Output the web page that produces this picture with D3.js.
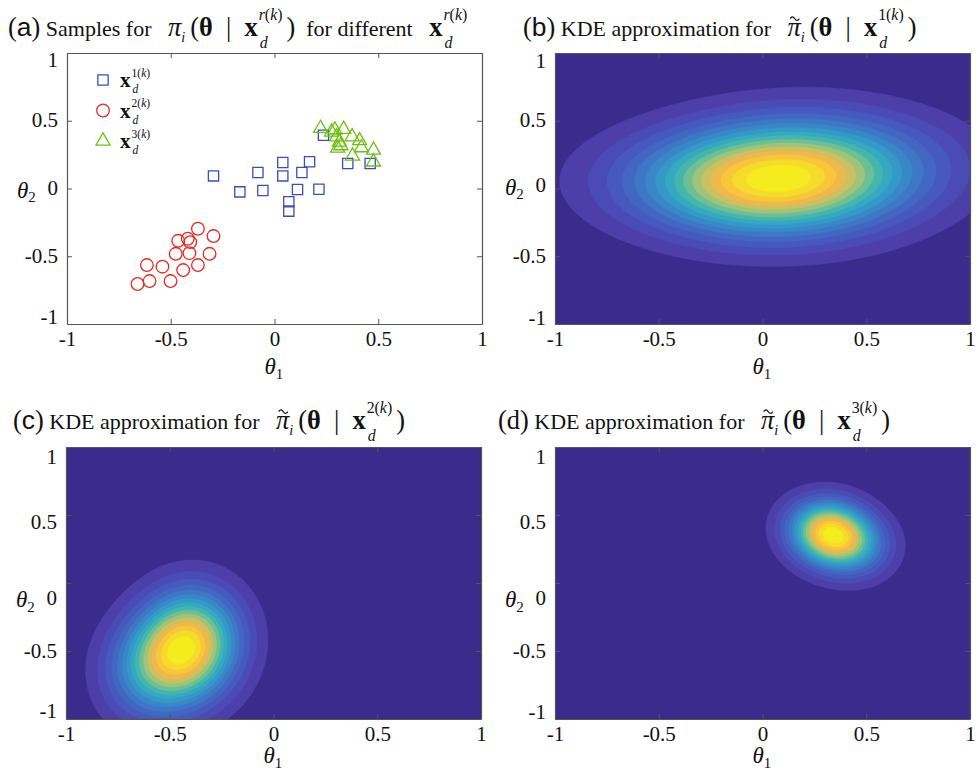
<!DOCTYPE html>
<meta charset="utf-8">
<style>
  body { margin: 0; background: #fff; }
  text { font-family: "Liberation Serif", "Times New Roman", serif; fill: #111; white-space: pre; }
  .axis path, .axis line { stroke: #555; }
  .axis text { font-family: "Liberation Serif", "Times New Roman", serif; font-size: 21px; fill: #111; }
</style>
<svg width="979" height="770"></svg>
<script src="https://cdn.jsdelivr.net/npm/d3@7"></script>
<script>

// samples of theta for each x_d^{r(k)}  ([theta1, theta2])
var samples1 = [[-0.294,0.093],[-0.167,-0.025],[-0.080,0.118],[-0.056,-0.015],[0.040,0.192],[0.040,0.093],
                [0.069,-0.098],[0.069,-0.167],[0.111,-0.007],[0.132,0.118],[0.169,0.197],[0.214,-0.005],
                [0.236,0.393],[0.353,0.184],[0.461,0.184]];
var samples2 = [[-0.660,-0.705],[-0.602,-0.683],[-0.615,-0.565],[-0.540,-0.577],[-0.501,-0.683],[-0.476,-0.482],
                [-0.464,-0.386],[-0.440,-0.602],[-0.418,-0.371],[-0.406,-0.396],[-0.410,-0.477],[-0.369,-0.565],
                [-0.369,-0.297],[-0.313,-0.482],[-0.294,-0.351]];
var samples3 = [[0.222,0.444],[0.291,0.432],[0.333,0.437],[0.299,0.382],[0.320,0.316],[0.313,0.343],
                [0.374,0.382],[0.410,0.353],[0.419,0.301],[0.376,0.240],[0.477,0.284],[0.477,0.196],
                [0.275,0.417],[0.304,0.299]];

// KDE bandwidths [h1, h2] used for panels b, c, d
var bandwidths = [[0.40, 0.24], [0.15, 0.25], [0.12, 0.15]];
var nLevels = 16;

var tickValues = [-1, -0.5, 0, 0.5, 1];
var seriesNames = ["1", "2", "3"];

// muted parula-like colours, background first, then one per contour band
var bandColors = ["#3a2b8c", "#4d3eaa", "#4a4bb5", "#4659bd", "#4267c2", "#3d77c6", "#3888c8", "#3499c8",
                  "#35a9c0", "#46b6ad", "#6cc094", "#9ec479", "#cbc062", "#efb84a", "#f9c53a", "#f6dc2a", "#f5ec1e"];

var svg = d3.select("svg");

var panels = [
    {id: "a", x0: 67,  x1: 482, y0: 53,  y1: 324, ylab: [-7, 0, 0, 0, 7]},
    {id: "b", x0: 555, x1: 970, y0: 53,  y1: 324, ylab: [-6, 0, -3, 0, 8]},
    {id: "c", x0: 66,  x1: 481, y0: 447, y1: 719, ylab: [-8, 0, 15, 7, 10]},
    {id: "d", x0: 555, x1: 970, y0: 447, y1: 719, ylab: [-7, 0, 15, 7, 10]}
];

panels.forEach(function(p) {
    p.x = d3.scaleLinear().domain([-1, 1]).range([p.x0, p.x1]);
    p.y = d3.scaleLinear().domain([-1, 1]).range([p.y1, p.y0]);
    p.g = svg.append("g");
});

// --- rich text helper: runs are [string, style] ---
function seg(g, x, y, fs, runs) {
    var t = g.append("text").attr("x", x).attr("y", y).style("font-size", fs + "px");
    runs.forEach(function(r) {
        var s = t.append("tspan").text(r[0]);
        if (r[1] == "i") s.style("font-style", "italic");
        if (r[1] == "b") s.style("font-weight", "bold");
        if (r[1] == "s") s.style("font-family", "'Liberation Sans', Arial, sans-serif");
    });
    return t.node().getComputedTextLength();
}

function rich(g, x, y, fs, parts) {
    var cx = x;
    parts.forEach(function(p) {
        var f = fs * (p.k || 1);
        if (p.stack) {
            var sk = p.small || 0.6;
            var a = seg(g, cx, y - f * (p.up || 0.62), f * sk, p.stack[0]);
            var b = seg(g, cx + 1, y + f * (p.down || 0.44), f * sk, p.stack[1]);
            cx += Math.max(a, b) + (p.gap || 1);
        } else {
            var w = seg(g, cx, y + (p.dy || 0) * fs, f, p.s);
            if (p.tilde) {
                // tilde accent drawn as a small wave above the glyph
                var tx = cx + w * 0.2, ty = y - f * 0.66, tw = w * 0.7;
                g.append("path")
                    .attr("d", "M" + tx + "," + ty + "q" + tw / 4 + ",-3.5 " + tw / 2 + ",0t" + tw / 2 + ",0")
                    .attr("fill", "none").attr("stroke", "#111").attr("stroke-width", 1.1);
            }
            cx += w + (p.gap || 0);
        }
    });
}

function xd(sup, k, gap) {
    return [{s: [["x", "b"]], k: k, gap: 1}, {stack: [sup, [["d", "i"]]], k: k, gap: gap}];
}
var rk = [["r", "i"], ["(", "n"], ["k", "i"], [")", "n"]];
function nk(n) { return [[n, "n"], ["(", "n"], ["k", "i"], [")", "n"]]; }

// --- axes ---
function drawAxes(p) {
    var fmt = function(d) { return String(d); };
    p.g.append("g").attr("class", "axis").attr("transform", "translate(0," + p.y1 + ")")
        .call(d3.axisBottom(p.x).tickValues(tickValues).tickFormat(fmt).tickSizeInner(-5).tickSizeOuter(0).tickPadding(7));
    p.g.append("g").attr("class", "axis").attr("transform", "translate(0," + p.y0 + ")")
        .call(d3.axisTop(p.x).tickValues(tickValues).tickFormat("").tickSizeInner(-5).tickSizeOuter(0));
    var ya = p.g.append("g").attr("class", "axis").attr("transform", "translate(" + p.x0 + ",0)")
        .call(d3.axisLeft(p.y).tickValues(tickValues).tickFormat(fmt).tickSizeInner(-5).tickSizeOuter(0).tickPadding(9));
    ya.selectAll(".tick text").attr("dy", function(d, i) { return (p.ylab[i] + 6) + "px"; });
    p.g.append("g").attr("class", "axis").attr("transform", "translate(" + p.x1 + ",0)")
        .call(d3.axisRight(p.y).tickValues(tickValues).tickFormat("").tickSizeInner(-5).tickSizeOuter(0));
    p.g.selectAll(".axis path").attr("stroke-width", 1.2);

    var cx = (p.x0 + p.x1) / 2;
    rich(p.g, cx - 10, Math.min(p.y1 + 50, 763), 23, [{s: [["θ", "i"]]}, {s: [["1", "n"]], k: 0.65, dy: 0.2}]);
    var zy = p.y(0) + p.ylab[2];
    rich(p.g, p.x0 - 50, zy + 9, 23, [{s: [["θ", "i"]]}, {s: [["2", "n"]], k: 0.65, dy: 0.2}]);
}

// --- panel (a): scatter ---
var pa = panels[0];
var markers = [
    {data: samples1, type: d3.symbolSquare, size: 105, color: "#3c4db4"},
    {data: samples2, type: d3.symbolCircle, size: 125, color: "#e8271f"},
    {data: samples3, type: d3.symbolTriangle, size: 85, color: "#6cbf10"}
];
markers.forEach(function(m) {
    pa.g.selectAll(null).data(m.data).enter().append("path")
        .attr("transform", function(d) { return "translate(" + pa.x(d[0]) + "," + pa.y(d[1]) + ")"; })
        .attr("d", d3.symbol().type(m.type).size(m.size))
        .attr("fill", "none").attr("stroke", m.color).attr("stroke-width", 1.3);
});
drawAxes(pa);

// legend
markers.forEach(function(m, i) {
    var ly = 80 + i * 30.5;
    pa.g.append("path").attr("transform", "translate(103," + ly + ")")
        .attr("d", d3.symbol().type(m.type).size(m.size))
        .attr("fill", "none").attr("stroke", m.color).attr("stroke-width", 1.3);
    rich(pa.g, 120, ly + 7, 21, [{s: [["x", "b"]], gap: 1},
        {stack: [nk(seriesNames[i]), [["d", "i"]]], small: 0.55, up: 0.5, down: 0.3}]);
});

// --- KDE panels ---
function kde(samples, h, nx, ny) {
    var v = new Float64Array(nx * ny);
    for (var j = 0; j < ny; j++) {
        var ty = 1 - (j + 0.5) * 2 / ny;
        for (var i = 0; i < nx; i++) {
            var tx = -1 + (i + 0.5) * 2 / nx, s = 0;
            samples.forEach(function(d) {
                var a = (tx - d[0]) / h[0], b = (ty - d[1]) / h[1];
                s += Math.exp(-0.5 * (a * a + b * b));
            });
            v[j * nx + i] = s;
        }
    }
    return v;
}

[samples1, samples2, samples3].forEach(function(samples, k) {
    var p = panels[k + 1], nx = 240, ny = 160;
    var values = kde(samples, bandwidths[k], nx, ny);
    var max = d3.max(values);
    var levels = d3.range(1, nLevels + 1).map(function(l) { return max * l / (nLevels + 1); });
    var clipId = "clip" + p.id;
    p.g.append("clipPath").attr("id", clipId).append("rect")
        .attr("x", p.x0).attr("y", p.y0).attr("width", p.x1 - p.x0).attr("height", p.y1 - p.y0);
    var area = p.g.append("g").attr("clip-path", "url(#" + clipId + ")");
    area.append("rect").attr("x", p.x0).attr("y", p.y0).attr("width", p.x1 - p.x0).attr("height", p.y1 - p.y0)
        .attr("fill", bandColors[0]);
    var path = d3.geoPath(d3.geoTransform({
        point: function(gx, gy) { this.stream.point(p.x(-1 + gx * 2 / nx), p.y(1 - gy * 2 / ny)); }
    }));
    area.selectAll(null).data(d3.contours().size([nx, ny]).thresholds(levels)(values)).enter().append("path")
        .attr("d", path)
        .attr("fill", function(d, i) { return bandColors[i + 1]; })
        .attr("stroke", function(d, i) { return bandColors[i + 1]; })
        .attr("stroke-width", 0.4);
    drawAxes(p);
});

// --- titles ---
var mathK = 1.2;
function condPart(sup) {
    return [{s: [["(", "n"], ["θ", "b"], ["  |  ", "n"]], k: mathK}].concat(xd(sup, mathK, 4))
        .concat([{s: [[")", "n"]], k: mathK}]);
}
function label(ch, style) {
    return {s: [["(", "n"], [ch, style], [")", "n"]], k: 1.2};
}
rich(svg, 8, 36, 22, [label("a", "s"), {s: [[" Samples for   ", "n"]]}, {s: [["π", "i"]], k: mathK},
    {s: [["i", "i"]], k: 0.65, dy: 0.25, gap: 5}]
    .concat(condPart(rk)).concat([{s: [["  for different   ", "n"]]}]).concat(xd(rk, mathK)));

[["b", 523, 36], ["c", 13, 429], ["d", 498, 429]].forEach(function(t, i) {
    rich(svg, t[1], t[2], 22, [label(t[0], t[0] == "d" ? "n" : "s"), {s: [[" KDE approximation for   ", "n"]]},
        {s: [["π", "i"]], k: mathK, tilde: true}, {s: [["i", "i"]], k: 0.65, dy: 0.25, gap: 5}]
        .concat(condPart(nk(seriesNames[i]))));
});

</script>
